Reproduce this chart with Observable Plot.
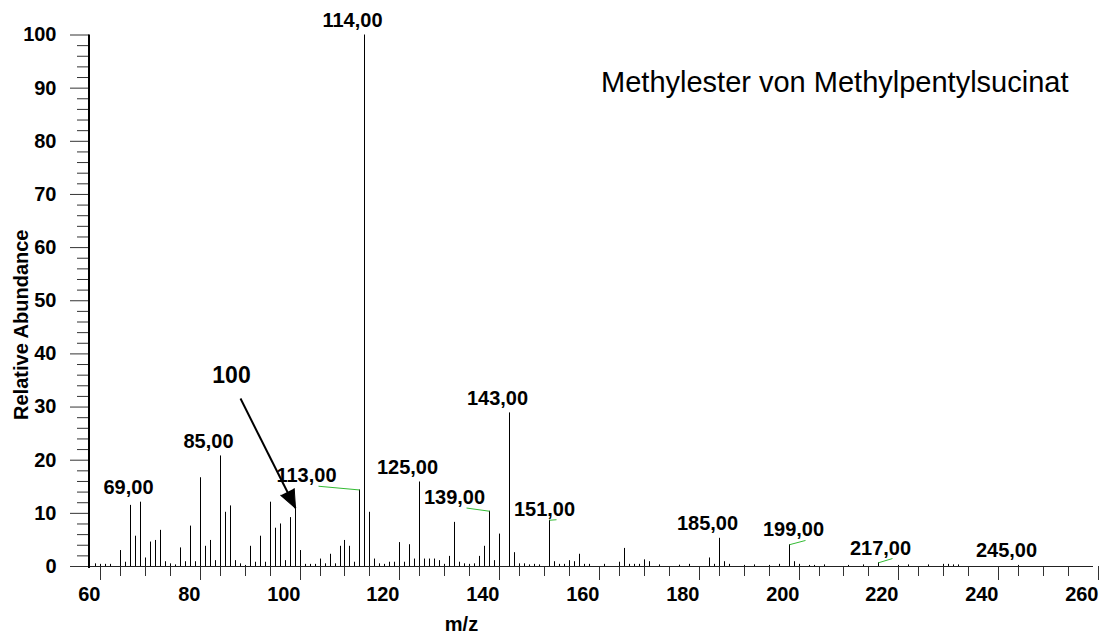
<!DOCTYPE html>
<html>
<head>
<meta charset="utf-8">
<script src="https://cdn.jsdelivr.net/npm/d3@7"></script>
<script src="https://cdn.jsdelivr.net/npm/@observablehq/plot@0.6"></script>
<style>
  html, body { margin: 0; padding: 0; background: #fff; }
  #chart svg { display: block; }
</style>
</head>
<body>
<div id="chart"></div>
<script>
// Mass spectrum (EI) of the methyl ester of methylpentylsuccinate
const mzValues = [
  60, 61, 62, 63, 65, 66, 67, 68, 69, 70, 71, 72, 73, 74, 75, 76, 77, 78, 79, 80,
  81, 82, 83, 84, 85, 86, 87, 88, 89, 90, 91, 92, 93, 94, 95, 96, 97, 98, 99, 100,
  101, 102, 103, 104, 105, 106, 107, 108, 109, 110, 111, 112, 113, 114, 115, 116, 117, 118, 119, 120,
  121, 122, 123, 124, 125, 126, 127, 128, 129, 130, 131, 132, 133, 134, 135, 136, 137, 138, 139, 140,
  141, 143, 144, 145, 146, 147, 148, 149, 151, 152, 153, 154, 155, 156, 157, 158, 159, 162, 165, 166,
  167, 168, 169, 170, 171, 173, 177, 179, 183, 184, 185, 186, 187, 190, 192, 195, 197, 199, 200, 201,
  203, 204, 206, 211, 214, 217, 221, 223, 227, 230, 231, 232, 233, 245
];
const abundances = [
  0.5, 0.4, 0.4, 0.4, 3.0, 0.8, 11.5, 5.7, 12.1, 1.6, 4.6, 4.9, 6.8, 0.9, 0.5, 0.3, 3.5, 0.9, 7.6, 0.9,
  16.7, 3.8, 4.9, 1.1, 20.8, 10.2, 11.4, 1.1, 0.5, 0.2, 3.8, 0.8, 5.7, 0.8, 12.1, 7.2, 8.0, 1.1, 9.2, 11.0,
  3.0, 0.4, 0.4, 0.4, 1.4, 0.5, 2.3, 0.5, 3.8, 4.9, 3.8, 0.8, 14.4, 100, 10.2, 1.4, 0.5, 0.4, 0.8, 0.8,
  4.5, 0.8, 4.1, 1.4, 15.9, 1.4, 1.4, 1.4, 1.1, 0.4, 1.9, 8.3, 0.8, 0.5, 0.4, 0.5, 1.9, 3.8, 10.4, 1.1,
  6.1, 28.9, 2.6, 0.5, 0.5, 0.3, 0.4, 0.3, 8.7, 0.9, 0.4, 0.4, 1.1, 0.9, 2.3, 0.4, 0.4, 0.4, 0.8, 3.4,
  0.4, 0.4, 0.4, 1.25, 0.9, 0.3, 0.25, 0.4, 1.6, 0.4, 5.3, 0.9, 0.4, 0.2, 0.3, 0.2, 0.4, 4.1, 0.9, 0.4,
  0.2, 0.2, 0.3, 0.2, 0.3, 0.7, 0.2, 0.3, 0.3, 0.4, 0.4, 0.3, 0.3, 0.2
];

// Peaks labelled directly above the line
const directLabelMz = [69, 85, 114, 125, 143, 185, 245];
// Peaks whose label sits beside them, joined by a leader line
const leaderLabelMz = [113, 139, 151, 199, 217];
const leaderLabelAtMz = [104.7, 134.4, 152.4, 202.35, 219.7];
const leaderLabelAtAbundance = [15.1, 11.0, 8.8, 4.9, 1.5];

// Arrow pointing at m/z 100
const arrowTargetMz = 100;
const arrowText = "100";
const arrowFromMz = 89.1;
const arrowFromAbundance = 31.6;

const titleText = "Methylester von Methylpentylsucinat";
const xLabel = "m/z";
const yLabel = "Relative Abundance";

const xMajorTicks = [60, 80, 100, 120, 140, 160, 180, 200, 220, 240, 260];
const xMinorTicks = [65, 70, 75, 85, 90, 95, 105, 110, 115, 125, 130, 135, 145, 150, 155,
  165, 170, 175, 185, 190, 195, 205, 210, 215, 225, 230, 235, 245, 250, 255];
const yMajorTicks = [0, 10, 20, 30, 40, 50, 60, 70, 80, 90, 100];
const yMinorTicks = [2, 4, 6, 8, 12, 14, 16, 18, 22, 24, 26, 28, 32, 34, 36, 38, 42, 44, 46, 48,
  52, 54, 56, 58, 62, 64, 66, 68, 72, 74, 76, 78, 82, 84, 86, 88, 92, 94, 96, 98];

// ---- derived tables ----
const peaks = mzValues.map((mz, i) => ({mz, abundance: abundances[i]}));
const abundanceAt = (mz) => peaks.find((p) => p.mz === mz).abundance;
const fmt = (mz) => `${mz},00`;
const directLabels = directLabelMz.map((mz) => ({mz, abundance: abundanceAt(mz)}));
const leaderLabels = leaderLabelMz.map((mz, i) => ({
  mz, abundance: abundanceAt(mz),
  atMz: leaderLabelAtMz[i], atAbundance: leaderLabelAtAbundance[i]
}));
const arrowNote = [{
  mz: arrowTargetMz, abundance: abundanceAt(arrowTargetMz),
  fromMz: arrowFromMz, fromAbundance: arrowFromAbundance, text: arrowText
}];

// ---- layout ----
const width = 1105, height = 634;
const marginLeft = 89, marginRight = 12, marginTop = 34.5, marginBottom = 68;
const xDomain = [58.8, 260];
const yDomain = [0, 100];
const font = "'Liberation Sans', Arial, Helvetica, sans-serif";

// screen direction of the arrow, for orienting its filled head
const kx = (width - marginLeft - marginRight) / (xDomain[1] - xDomain[0]);
const ky = (height - marginTop - marginBottom) / (yDomain[1] - yDomain[0]);
const adx = (arrowNote[0].mz - arrowNote[0].fromMz) * kx;
const ady = -(arrowNote[0].abundance - arrowNote[0].fromAbundance) * ky;
const headAngle = Math.atan2(adx, -ady) * 180 / Math.PI;

const plot = Plot.plot({
  width, height, marginLeft, marginRight, marginTop, marginBottom,
  style: {fontFamily: font, fontSize: "20px", background: "#fff", overflow: "visible"},
  x: {domain: xDomain, round: true, label: null},
  y: {domain: yDomain, label: null},
  marks: [
    // axes
    Plot.axisX({ticks: xMinorTicks, tickSize: 10, tickFormat: () => "", label: null, stroke: "#333"}),
    Plot.axisX({ticks: xMajorTicks, tickSize: 14, tickPadding: 6.5, textAnchor: "end", dx: 5,
      fontSize: 20, fontWeight: "bold", label: null, stroke: "#333"}),
    Plot.axisY({ticks: yMinorTicks, tickSize: 12, tickFormat: () => "", label: null, stroke: "#333"}),
    Plot.axisY({ticks: yMajorTicks, tickSize: 19, tickPadding: 14, fontSize: 20,
      fontWeight: "bold", label: null, stroke: "#333"}),
    Plot.ruleY([0], {stroke: "#222", strokeWidth: 1}),
    Plot.ruleX([xDomain[0]], {stroke: "#000", strokeWidth: 2, dx: -0.5, insetBottom: -2}),

    // spectrum lines
    Plot.ruleX(peaks, {x: "mz", y1: 0, y2: "abundance", stroke: "#000", strokeWidth: 1}),

    // leader lines and their labels
    Plot.link(leaderLabels, {x1: "mz", y1: "abundance", x2: "atMz", y2: "atAbundance",
      stroke: "#33bb33", strokeWidth: 1}),
    Plot.text(leaderLabels, {x: "atMz", y: "atAbundance", text: (d) => fmt(d.mz),
      lineAnchor: "bottom", dx: -12, dy: -4, fontSize: 20, fontWeight: "bold", fill: "#000"}),

    // labels directly above the peaks
    Plot.text(directLabels, {x: "mz", y: "abundance", text: (d) => fmt(d.mz),
      lineAnchor: "bottom", dx: -12, dy: -8, fontSize: 20, fontWeight: "bold", fill: "#000"}),

    // arrow annotation
    Plot.link(arrowNote, {x1: "fromMz", y1: "fromAbundance", x2: "mz", y2: "abundance",
      stroke: "#000", strokeWidth: 2}),
    Plot.vector(arrowNote, {x: "mz", y: "abundance", anchor: "end", shape: "spike",
      length: 18, r: 7.5, rotate: headAngle, fill: "#000", stroke: "#000", strokeWidth: 1}),
    Plot.text(arrowNote, {x: "fromMz", y: "fromAbundance", text: "text", dx: -9, dy: -23,
      lineAnchor: "middle", fontSize: 23, fontWeight: "bold", fill: "#000"}),

    // titles
    Plot.text([titleText], {frameAnchor: "top-right", text: (d) => d, textAnchor: "end",
      lineAnchor: "bottom", dx: -25, dy: 57, fontSize: 29, fill: "#000"}),
    Plot.text([xLabel], {frameAnchor: "bottom", text: (d) => d, lineAnchor: "bottom",
      dx: -130, dy: 64, fontSize: 20, fontWeight: "bold", fill: "#000"}),
    Plot.text([yLabel], {frameAnchor: "left", text: (d) => d, rotate: -90, textAnchor: "middle",
      lineAnchor: "bottom", dx: -62, dy: 24, fontSize: 20, fontWeight: "bold", fill: "#000"})
  ]
});

document.getElementById("chart").appendChild(plot);
</script>
</body>
</html>
